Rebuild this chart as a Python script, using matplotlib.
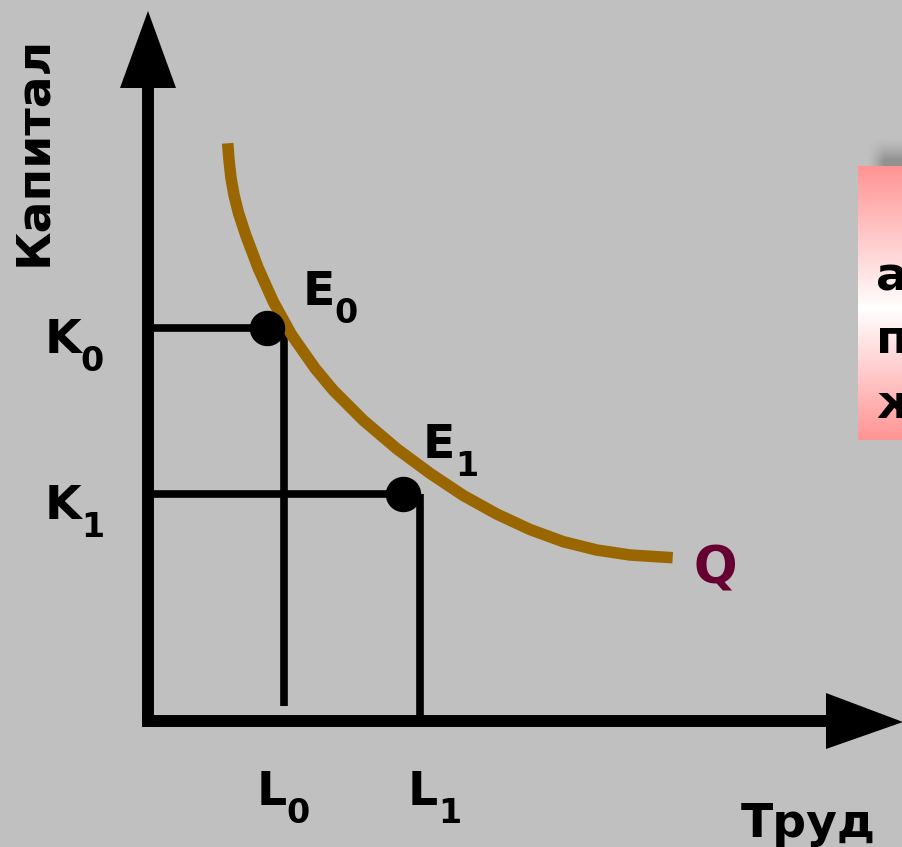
import numpy as np
import matplotlib
matplotlib.use('Agg')
import matplotlib.pyplot as plt

# isoquant Q (labour, capital)
q_labour = [0.797, 0.81, 0.83, 0.86, 0.905, 0.977, 1.103, 1.253, 1.437, 1.67,
            1.853, 2.153, 2.487, 2.82, 3.153, 3.487, 3.82, 4.153, 4.487, 4.82, 5.247]
q_capital = [5.777, 5.61, 5.43, 5.26, 5.08, 4.86, 4.527, 4.193, 3.86, 3.527,
             3.307, 3.007, 2.723, 2.477, 2.255, 2.07, 1.915, 1.793, 1.71, 1.66, 1.633]

# equilibrium points E0, E1
point_names = ['E', 'E']
point_subs = ['0', '1']
point_labour = [1.19, 2.55]
point_capital = [3.93, 2.27]

# guide levels on the axes
labour_levels = [1.36, 2.72]
labour_bottom = [0.15, 0.0]
capital_levels = [3.93, 2.27]
level_subs = ['0', '1']

x_max = 6.80
y_max = 6.35

BG = '#c0c0c0'
CURVE = '#996600'
QCOL = '#660033'

fig = plt.figure(figsize=(9.03, 8.47), dpi=100, facecolor=BG)
ax = fig.add_axes([0, 0, 1, 1])
ax.set_facecolor(BG)
ax.axis('off')

big = dict(fontsize=34, fontweight='bold', family='DejaVu Sans', color='black')
small = dict(fontsize=24, fontweight='bold', family='DejaVu Sans', color='black')

# pink box on the right with a soft shadow
sh_x = np.linspace(0, 1, 80)
sh_y = np.linspace(0, 1, 200)
gx = np.clip(np.minimum(sh_x / 0.25, 1), 0, 1)
gy = np.clip(np.minimum(sh_y / 0.08, (1 - sh_y) / 0.08), 0, 1)
alpha = np.outer(gy, gx) ** 1.5 * 0.45
shadow = np.zeros((200, 80, 4))
shadow[..., :3] = 0.35
shadow[..., 3] = alpha
ax.imshow(shadow, extent=[7.18, 7.90, 2.95, 5.85], origin='upper',
          aspect='auto', zorder=1, interpolation='bilinear')

rows = np.linspace(0, 1, 300)
t = np.abs(rows - 0.52) / np.where(rows < 0.52, 0.52, 0.48)
pink = np.array([1.0, 0.58, 0.58])
grad = (1 - t)[:, None] * np.ones(3) + t[:, None] * pink
ax.imshow(grad[:, None, :], extent=[7.10, 7.70, 2.81, 5.55], origin='upper',
          aspect='auto', zorder=2, interpolation='bilinear')
for txt, yb in zip(['а', 'п', 'ж'], [4.31, 3.68, 3.03]):
    ax.text(7.28, yb, txt, ha='left', va='baseline', zorder=3, **big)

# axes with arrow heads
ax.plot([0, 0], [-0.06, y_max], color='black', lw=8.6, solid_capstyle='butt', zorder=4)
ax.plot([-0.06, x_max], [0, 0], color='black', lw=8.6, solid_capstyle='butt', zorder=4)
ax.fill([-0.28, 0.28, 0], [6.33, 6.33, 7.10], color='black', lw=0, zorder=4)
ax.fill([6.78, 6.78, 7.55], [0.28, -0.28, -0.01], color='black', lw=0, zorder=4)

# guide lines
for px, k in zip(point_labour, capital_levels):
    ax.plot([0, px], [k, k], color='black', lw=5.5, solid_capstyle='butt', zorder=5)
for lx, k, b in zip(labour_levels, capital_levels, labour_bottom):
    ax.plot([lx, lx], [b, k], color='black', lw=5.5, solid_capstyle='butt', zorder=5)

# isoquant
ax.plot(q_labour, q_capital, color=CURVE, lw=8.3, solid_capstyle='butt',
        solid_joinstyle='round', zorder=6)

# points
ax.plot(point_labour, point_capital, 'o', color='black', ms=24.5, zorder=7)

# labels
ax.text(-1.145, 5.70, 'Капитал', rotation=90, ha='center', va='center', **big)
ax.text(5.93, -1.16, 'Труд', ha='left', va='baseline', **big)
ax.text(5.46, 1.38, 'Q', ha='left', va='baseline', fontsize=37,
        fontweight='bold', family='DejaVu Sans', color=QCOL)

k_sub_x = [-0.68, -0.67]
for k, s, sx in zip(capital_levels, level_subs, k_sub_x):
    ax.text(-1.03, k - 0.25, 'K', ha='left', va='baseline', **big)
    ax.text(sx, k - 0.43, s, ha='left', va='baseline', **small)

l_sub_x = [1.38, 2.90]
l_x = [1.09, 2.60]
for lx, s, sx in zip(l_x, level_subs, l_sub_x):
    ax.text(lx, -0.84, 'L', ha='left', va='baseline', **big)
    ax.text(sx, -1.02, s, ha='left', va='baseline', **small)

e_x = [1.55, 2.75]
e_y = [4.16, 2.63]
e_sub_x = [1.86, 3.07]
for n, s, ex, ey, sx in zip(point_names, point_subs, e_x, e_y, e_sub_x):
    ax.text(ex, ey, n, ha='left', va='baseline', **big)
    ax.text(sx, ey - 0.18, s, ha='left', va='baseline', **small)

ax.set_xlim(-1.48, 7.55)
ax.set_ylim(-1.26, 7.21)

fig.savefig('out.png', dpi=100, facecolor=BG)
